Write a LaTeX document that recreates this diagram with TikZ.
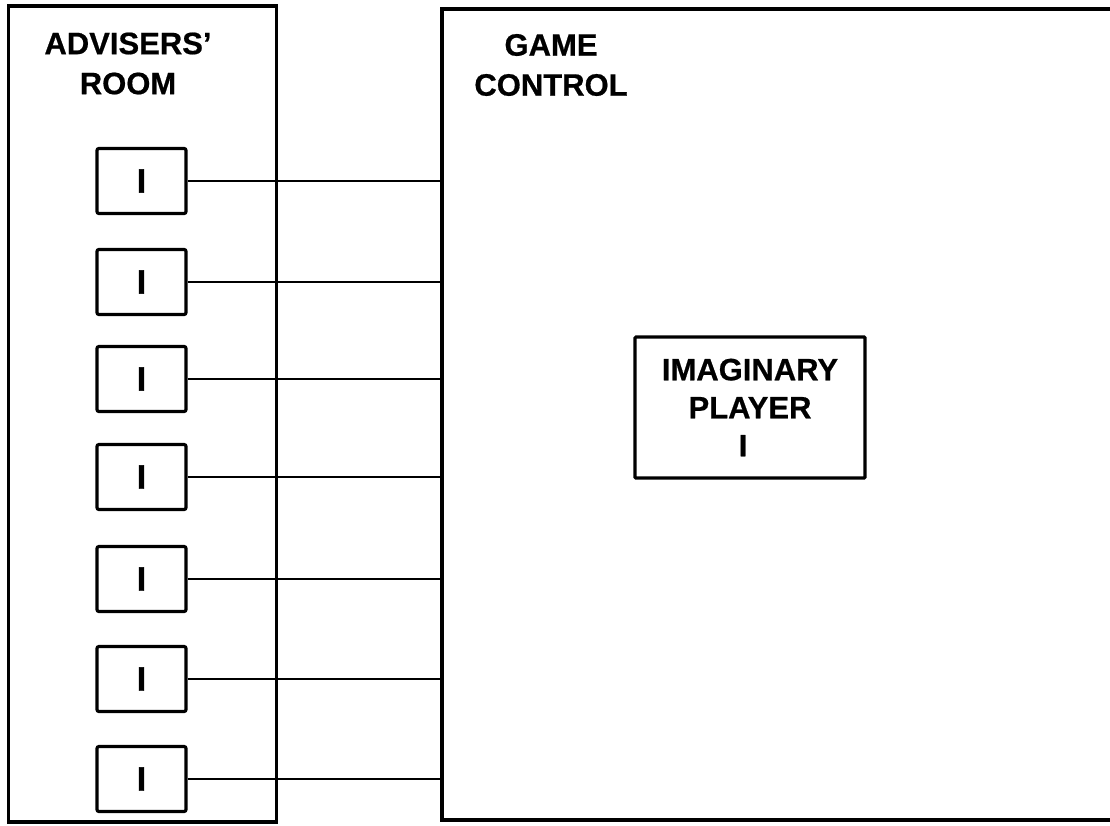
\documentclass[tikz,border=0pt]{standalone}
\usepackage{fontspec}
\setmainfont{Liberation Sans}
\newfontfamily\heavyfont[FakeBold=1.2]{Liberation Sans Bold}
\newfontfamily\semiheavy[FakeBold=0.6]{Liberation Sans Bold}
\begin{document}
\begin{tikzpicture}[x=1pt,y=-1pt,
  room/.style={draw, line width=3.4pt, inner sep=0pt},
  lbl/.style={font=\semiheavy\fontsize{31}{40}\selectfont, align=center, inner sep=0pt},
  ibox/.style={draw, line width=3.2pt, rounded corners=2pt, minimum width=89pt, minimum height=65pt, inner sep=0pt, font=\heavyfont\fontsize{34}{40}\selectfont},
  pbox/.style={draw, line width=3.2pt, rounded corners=1pt, minimum width=230pt, minimum height=141pt, inner sep=0pt, align=center, font=\semiheavy\fontsize{31}{38}\selectfont},
  wire/.style={draw, line width=2.8pt}]
\fill[white] (0,0) rectangle (1110,825);
\useasboundingbox (0,0) rectangle (1110,825);
\node[room, minimum width=268pt, minimum height=816pt] (adv) at (142.5,414) {};
\node[room, minimum width=671pt, minimum height=811pt] (gc) at (777.5,414.5) {};
\node[lbl] (advl) at (128,63.5) {ADVISERS’\\ROOM};
\node[lbl] (gcl) at (551,65) {GAME\\CONTROL};
\node[pbox] (ip) at (750,407.5) {IMAGINARY\\PLAYER\\I\hspace*{14pt}};
\foreach \i/\y in {1/181,2/282,3/379,4/477,5/579,6/679,7/779} {
  \node[ibox] (b\i) at (141.5,\y) {I};
  \draw[wire] (b\i.east) -- (b\i.east -| gc.west);
}
\end{tikzpicture}
\end{document}
